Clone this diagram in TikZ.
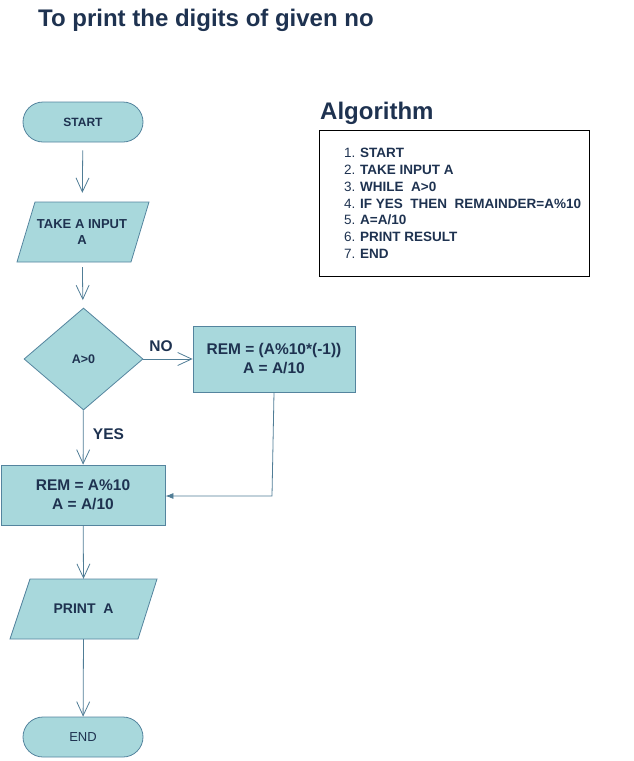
\documentclass[tikz,border=0pt]{standalone}
\usepackage{fontspec}
\setmainfont{Liberation Sans}
\usetikzlibrary{shapes.geometric,arrows.meta}
\definecolor{boxfill}{RGB}{168,216,220}
\definecolor{boxline}{RGB}{84,132,158}
\definecolor{txtc}{RGB}{30,50,80}
\definecolor{linec}{RGB}{80,125,150}
\tikzset{
  shp/.style={fill=boxfill,draw=boxline,line width=0.8pt,text=txtc,inner sep=0pt,align=center},
  term/.style={shp,rectangle,rounded corners=20pt,minimum width=120pt,minimum height=40pt},
  proc/.style={shp,rectangle},
  dec/.style={shp,diamond,minimum width=119pt,minimum height=102pt},
  ghost/.style={rectangle,inner sep=0pt,text=txtc,align=center},
  conn/.style={draw=linec,line width=0.8pt,-{Straight Barb[length=14pt,width=13pt]}},
  conn2/.style={draw=linec,line width=0.8pt,-{Latex[length=8pt,width=6pt]}},
  lbl/.style={text=txtc,font=\fontsize{15.5}{18}\selectfont\bfseries},
  algo/.style={text=txtc,anchor=west,inner sep=0pt}
}
\begin{document}
\begin{tikzpicture}[x=1pt,y=-1pt]
\useasboundingbox (0,0) rectangle (633,761);
% title
\node[text=txtc,font=\fontsize{24}{28}\selectfont\bfseries,anchor=west,inner sep=0pt] (title) at (38,20) {To print the digits of given no};
% flowchart
\node[term,font=\fontsize{12}{14}\selectfont\bfseries] (start) at (83,122) {START};
\filldraw[fill=boxfill,draw=boxline,line width=0.8pt] (35,202) -- (149,202) -- (131,262) -- (17,262) -- cycle;
\node[ghost,minimum width=110pt,minimum height=60pt,font=\fontsize{13}{16}\selectfont\bfseries] (inp) at (82,232) {TAKE A INPUT\\A};
\node[dec,font=\fontsize{12.5}{14}\selectfont\bfseries] (cond) at (83.5,359) {A>0};
\node[proc,minimum width=162pt,minimum height=66pt,font=\fontsize{15.5}{19}\selectfont\bfseries] (neg) at (274,359) {REM = (A\%10*(-1))\\A = A/10};
\node[proc,minimum width=164pt,minimum height=60pt,font=\fontsize{15.5}{19}\selectfont\bfseries] (pos) at (83,495) {REM = A\%10\\A = A/10};
\filldraw[fill=boxfill,draw=boxline,line width=0.8pt] (30,579) -- (157,579) -- (138,639) -- (10,639) -- cycle;
\node[ghost,minimum width=120pt,minimum height=60pt,font=\fontsize{14}{16}\selectfont\bfseries] (out) at (83.5,609) {PRINT\ \ A};
\node[term,font=\fontsize{13}{15}\selectfont] (end) at (83,737) {END};
% connectors
\draw[conn,shorten <=8pt,shorten >=9pt] (start) -- (inp);
\draw[conn,shorten <=5pt,shorten >=8pt] (inp) -- (cond);
\draw[conn] (cond) -- node[lbl,above,xshift=-7pt,yshift=4pt] (nolbl) {NO} (neg);
\draw[conn] (cond) -- node[lbl,right,xshift=6pt,yshift=3pt] (yeslbl) {YES} (pos);
\coordinate (bend) at (272,496);
\draw[conn2] (neg.south) -- (bend) -- (pos.east |- bend);
\draw[conn] (pos) -- (out.north);
\draw[conn] (out.south) -- (end);
% algorithm
\node[text=txtc,font=\fontsize{24}{28}\selectfont\bfseries,anchor=west,inner sep=0pt] (algt) at (320,113) {Algorithm};
\node[draw=black,line width=0.8pt,minimum width=270pt,minimum height=146pt,anchor=north west,inner sep=0pt] (algbox) at (319,130) {};
\foreach \i/\t [count=\k] in {1/{START},2/{TAKE INPUT A},3/{WHILE\ \ A>0},4/{IF YES\ \ THEN\ \ REMAINDER=A\%10},5/{A=A/10},6/{PRINT RESULT},7/{END}}{
  \node[algo,font=\fontsize{13.5}{15}\selectfont] (num\k) at (344,{153+16.8*(\k-1)}) {\i.};
  \node[algo,font=\fontsize{13.5}{15}\selectfont\bfseries] (item\k) at (360,{153+16.8*(\k-1)}) {\t};
}
\end{tikzpicture}
\end{document}
